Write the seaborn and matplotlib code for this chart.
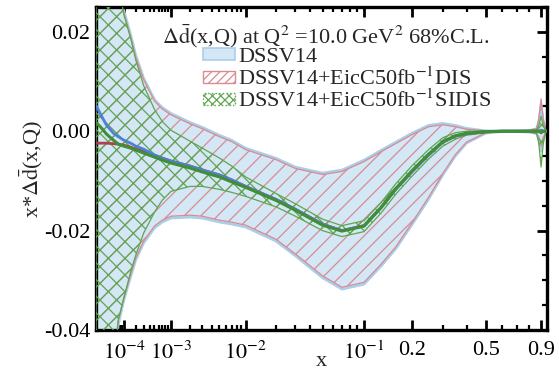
import numpy as np
import matplotlib
matplotlib.use("Agg")
import matplotlib.pyplot as plt
import seaborn as sns
from matplotlib.patches import Patch

# ---------------- data ----------------
x = [1.2e-5, 2e-5, 3e-5, 5e-5, 7e-5, 1e-4, 1.5e-4, 2e-4, 3e-4, 5e-4, 7e-4,
     1e-3, 2e-3, 3e-3, 5e-3, 7e-3, 1e-2, 2e-2, 3e-2, 5e-2, 7e-2, 0.1, 0.13,
     0.16, 0.2, 0.25, 0.3, 0.35, 0.4, 0.5, 0.6, 0.7, 0.8, 0.86, 0.88, 0.9,
     0.92, 0.94, 0.955]

dssv_central = [0.0052, 0.0030, 0.0012, -0.0004, -0.0011, -0.0018, -0.0024,
                -0.0030, -0.0036, -0.0048, -0.0054, -0.0060, -0.0070, -0.0078,
                -0.0088, -0.0098, -0.0111, -0.0137, -0.0157, -0.0187, -0.0200,
                -0.0190, -0.0153, -0.0117, -0.0082, -0.0048, -0.0022, -0.0010,
                -0.0005, -0.0001, 0.0, 0.0, 0.0, 0.0, 0.0, 0.0002, 0.0, 0.0, 0.0]
dssv_upper = [0.090, 0.070, 0.055, 0.040, 0.032, 0.0243, 0.0195, 0.0153,
              0.0107, 0.0064, 0.0048, 0.0036, 0.0018, 0.0008, -0.0008,
              -0.0018, -0.0034, -0.0054, -0.0072, -0.0084, -0.0078, -0.0058,
              -0.0038, -0.0022, -0.0004, 0.0012, 0.0016, 0.0012, 0.0006,
              0.0001, 0.0001, 0.0001, 0.0002, 0.0005, 0.0020, 0.0055, 0.0020,
              0.0005, 0.0002]
dssv_lower = [-0.100, -0.080, -0.064, -0.048, -0.039, -0.0340, -0.0293,
              -0.0259, -0.0225, -0.0195, -0.0183, -0.0175, -0.0173, -0.0175,
              -0.0183, -0.0187, -0.0193, -0.0221, -0.0251, -0.0295, -0.0318,
              -0.0308, -0.0271, -0.0237, -0.0189, -0.0137, -0.0088, -0.0050,
              -0.0024, -0.0004, -0.0001, -0.0001, -0.0002, -0.0005, -0.0015,
              -0.0040, -0.0015, -0.0005, -0.0002]

dis_central = [-0.0024, -0.0024, -0.0024, -0.0025, -0.0026, -0.0028, -0.0032,
               -0.0036, -0.0040, -0.0048, -0.0054, -0.0060, -0.0070, -0.0078,
               -0.0088, -0.0098, -0.0111, -0.0137, -0.0157, -0.0187, -0.0200,
               -0.0190, -0.0153, -0.0117, -0.0082, -0.0048, -0.0022, -0.0010,
               -0.0005, -0.0001, 0.0, 0.0, 0.0, 0.0, 0.0, 0.0002, 0.0, 0.0, 0.0]
dis_upper = [0.088, 0.068, 0.053, 0.039, 0.031, 0.0238, 0.0190, 0.0149,
             0.0104, 0.0061, 0.0045, 0.0033, 0.0015, 0.0005, -0.0011, -0.0021,
             -0.0037, -0.0057, -0.0075, -0.0087, -0.0081, -0.0061, -0.0041,
             -0.0025, -0.0007, 0.0009, 0.0013, 0.0009, 0.0004, 0.0001, 0.0001,
             0.0001, 0.0002, 0.0005, 0.0025, 0.0065, 0.0025, 0.0005, 0.0002]
dis_lower = [-0.098, -0.078, -0.062, -0.047, -0.038, -0.0335, -0.0289,
             -0.0255, -0.0221, -0.0191, -0.0179, -0.0171, -0.0169, -0.0171,
             -0.0179, -0.0183, -0.0189, -0.0217, -0.0247, -0.0291, -0.0314,
             -0.0304, -0.0267, -0.0233, -0.0185, -0.0133, -0.0085, -0.0047,
             -0.0022, -0.0003, -0.0001, -0.0001, -0.0002, -0.0005, -0.0012,
             -0.0030, -0.0012, -0.0005, -0.0002]

sidis_central = [0.0018, 0.0006, -0.0006, -0.0018, -0.0026, -0.0030, -0.0034,
                 -0.0038, -0.0044, -0.0052, -0.0058, -0.0064, -0.0074, -0.0082,
                 -0.0092, -0.0102, -0.0113, -0.0139, -0.0159, -0.0189, -0.0201,
                 -0.0191, -0.0153, -0.0116, -0.0080, -0.0046, -0.0021, -0.0009,
                 -0.0004, -0.0001, 0.0, 0.0, 0.0, 0.0, 0.0, -0.0003, 0.0, 0.0,
                 0.0]
sidis_upper = [0.086, 0.066, 0.052, 0.038, 0.030, 0.0235, 0.0187, 0.0143,
               0.0092, 0.0044, 0.0020, 0.0002, -0.0020, -0.0034, -0.0054,
               -0.0070, -0.0092, -0.0125, -0.0146, -0.0177, -0.0190, -0.0180,
               -0.0143, -0.0106, -0.0070, -0.0037, -0.0013, -0.0003, 0.0000,
               0.0001, 0.0001, 0.0001, 0.0001, 0.0003, 0.0012, 0.0030, 0.0012,
               0.0003, 0.0001]
sidis_lower = [-0.098, -0.078, -0.062, -0.047, -0.038, -0.0336, -0.0283,
               -0.0249, -0.0205, -0.0163, -0.0139, -0.0121, -0.0111, -0.0111,
               -0.0117, -0.0123, -0.0131, -0.0152, -0.0171, -0.0200, -0.0212,
               -0.0202, -0.0164, -0.0127, -0.0091, -0.0056, -0.0030, -0.0016,
               -0.0008, -0.0003, -0.0001, -0.0001, -0.0001, -0.0004, -0.0025,
               -0.0072, -0.0025, -0.0004, -0.0001]

major_ticks = [1e-4, 1e-3, 1e-2, 1e-1, 0.2, 0.5, 0.9]
major_labels = [r"$10^{-4}$", r"$10^{-3}$", r"$10^{-2}$", r"$10^{-1}$",
                "0.2", "0.5", "0.9"]
ytick_vals = [-0.04, -0.02, 0.0, 0.02]
ytick_labels = ["-0.04", "-0.02", "0.00", "0.02"]
legend_labels = ["DSSV14", r"DSSV14+EicC50fb$^{-1}$DIS",
                 r"DSSV14+EicC50fb$^{-1}$SIDIS"]
legend_title = r"$\Delta\bar{\mathrm{d}}$(x,Q) at Q$^2$ =10.0 GeV$^2$ 68%C.L."

# ---------------- style ----------------
sns.set_style("ticks")
plt.rcParams["font.family"] = ["Liberation Serif", "DejaVu Serif"]
plt.rcParams["mathtext.fontset"] = "stix"
plt.rcParams["axes.unicode_minus"] = False
plt.rcParams["hatch.linewidth"] = 0.9

FS = 16
blue_fill = "#d3e7f5"
blue_edge = "#a9cfe9"
blue_line = "#4f7fd8"
red_hatch = "#d98a94"
red_line = "#b0404a"
green_hatch = "#5fa552"
green_line = "#3f8f35"

fig = plt.figure(figsize=(5.59, 3.74), dpi=100)
ax = fig.add_axes([96 / 559, 44 / 374, 451 / 559, 323 / 374])

fwd = lambda v: np.sign(v) * np.abs(v) ** 0.2
inv = lambda v: np.sign(v) * np.abs(v) ** 5
ax.set_xscale("function", functions=(fwd, inv))

xa = np.array(x)
ax.fill_between(xa, dssv_lower, dssv_upper, facecolor=blue_fill,
                edgecolor=blue_edge, linewidth=1.8, zorder=1)
ax.fill_between(xa, dis_lower, dis_upper, facecolor="none",
                edgecolor=red_hatch, hatch="//", linewidth=0.9, zorder=2)
ax.fill_between(xa, sidis_lower, sidis_upper, facecolor="none",
                edgecolor=green_hatch, hatch="xx", linewidth=0.9, zorder=3)

sns.lineplot(x=x, y=dis_central, ax=ax, color=red_line, lw=2.0,
             sort=False, zorder=4, legend=False)
sns.lineplot(x=x, y=dssv_central, ax=ax, color=blue_line, lw=2.0,
             sort=False, zorder=4, legend=False)
sns.lineplot(x=x, y=sidis_central, ax=ax, color=green_line, lw=2.2,
             sort=False, zorder=5, legend=False)

ax.set_xlim(1.2e-5, 0.955)
ax.set_ylim(-0.04, 0.025)

minor = []
for dec in [1e-5, 1e-4, 1e-3, 1e-2]:
    minor += [k * dec for k in range(2, 10)]
minor += [0.3, 0.4, 0.6, 0.7, 0.8]
ax.set_xticks(major_ticks)
ax.set_xticklabels(major_labels)
ax.set_xticks([m for m in minor if m > 1.2e-5], minor=True)
ax.set_yticks(ytick_vals)
ax.set_yticklabels(ytick_labels)
ax.set_yticks(np.arange(-0.04, 0.0251, 0.005), minor=True)

ax.tick_params(which="both", direction="in", top=True, right=True,
               labelsize=FS, colors="black")
ax.tick_params(which="major", length=7, width=2.0)
ax.tick_params(which="minor", length=3.5, width=1.6)
ax.tick_params(axis="x", which="major", pad=8)
ax.tick_params(axis="y", which="major", pad=4)
for s in ax.spines.values():
    s.set_linewidth(2.4)
    s.set_color("black")

ax.set_xlabel("x", fontsize=FS)
ax.xaxis.set_label_coords(0.5, -0.099)
ax.xaxis.label.set_va("center")
ax.set_ylabel(r"x*$\Delta\bar{\mathrm{d}}$(x,Q)", fontsize=FS, labelpad=-1)

ax.text(0.146, 0.91, legend_title, transform=ax.transAxes, fontsize=FS,
        ha="left", va="center", zorder=10)
handles = [
    Patch(facecolor=blue_fill, edgecolor=blue_edge, linewidth=1.2),
    Patch(facecolor="white", edgecolor=red_hatch, hatch="////", linewidth=1.0),
    Patch(facecolor="white", edgecolor=green_hatch, hatch="xxxx",
          linewidth=1.0, linestyle=":"),
]
leg = ax.legend(handles, legend_labels, loc="upper left",
                bbox_to_anchor=(0.237, 0.872), frameon=False, fontsize=FS,
                borderpad=0, borderaxespad=0, handlelength=1.45,
                handleheight=0.45, handletextpad=0.15, labelspacing=0.0)
leg.set_zorder(10)

fig.savefig("out.png", dpi=100)
